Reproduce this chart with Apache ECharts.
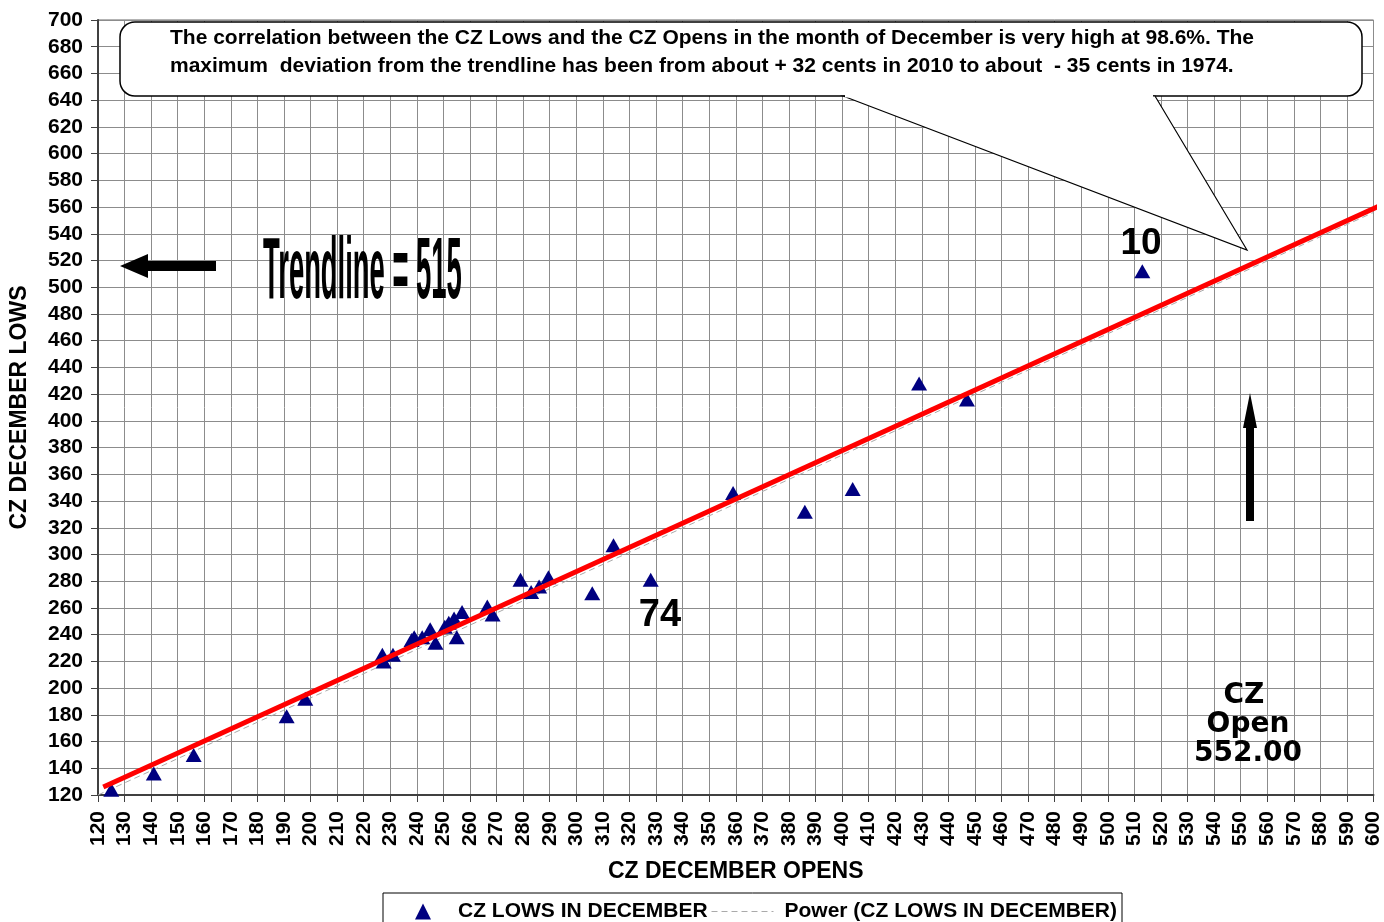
<!DOCTYPE html>
<html><head><meta charset="utf-8">
<script src="https://cdn.jsdelivr.net/npm/echarts@6/dist/echarts.min.js"></script>
<style>html,body{margin:0;padding:0;background:#fff}#c{width:1384px;height:922px}</style>
</head><body><div id="c"></div>
<script>
// CZ December opens (x) and lows (y)
const opens = [125, 141, 156, 191, 198, 227, 227.5, 231, 238, 239, 242, 245, 247, 250.5, 252, 254, 255, 257, 266.5, 268.5, 279, 283, 286, 289.5, 306, 314, 328, 359, 386, 404, 429, 447, 513];
const lows  = [124, 136, 150, 179, 192, 225, 220, 225, 236, 238, 238, 244, 234, 246, 249, 252, 238, 257, 261, 255, 281, 272, 276, 283, 271, 307, 281, 346, 332, 349, 428, 416, 512];
// red trendline drawn on the chart
const trendOpens = [122, 603];
const trendLows  = [126, 561.5];
// grey dashed power trendline
const powerOpens = [120, 600];
const powerLows  = [120, 556];
// axis ranges
const xMin = 120, xMax = 600, xStep = 10;
const yMin = 120, yMax = 700, yStep = 20;

const seriesName = 'CZ LOWS IN DECEMBER';
const powerName = 'Power (CZ LOWS IN DECEMBER)';
const noteLine1 = 'The correlation between the CZ Lows and the CZ Opens in the month of December is very high at 98.6%. The';
const noteLine2 = 'maximum  deviation from the trendline has been from about + 32 cents in 2010 to about  - 35 cents in 1974.';

const F = "'Liberation Sans', Arial, sans-serif";
const chart = echarts.init(document.getElementById('c'));
const pts = opens.map((x, i) => [x, lows[i]]);
const trend = trendOpens.map((x, i) => [x, trendLows[i]]);
const power = powerOpens.map((x, i) => [x, powerLows[i]]);

chart.setOption({
  backgroundColor: '#fff',
  animation: false,
  grid: { left: 98, right: 7, top: 20, bottom: 127, show: true, borderColor: '#666', borderWidth: 1, backgroundColor: '#fff' },
  xAxis: {
    type: 'value', min: xMin, max: xMax, interval: xStep,
    name: 'CZ DECEMBER OPENS', nameLocation: 'middle', nameGap: 65,
    nameTextStyle: { fontFamily: F, fontWeight: 'bold', fontSize: 23, color: '#000' },
    axisLine: { show: true, onZero: false, lineStyle: { color: '#404040', width: 2 } },
    axisTick: { show: true, length: 7, lineStyle: { color: '#404040' } },
    axisLabel: { rotate: 90, margin: 16, fontFamily: F, fontWeight: 'bold', fontSize: 21, color: '#000' },
    splitLine: { show: true, lineStyle: { color: '#8c8c8c', width: 1 } }
  },
  yAxis: {
    type: 'value', min: yMin, max: yMax, interval: yStep,
    name: 'CZ DECEMBER LOWS', nameLocation: 'middle', nameGap: 67,
    nameTextStyle: { fontFamily: F, fontWeight: 'bold', fontSize: 23, color: '#000' },
    axisLine: { show: true, onZero: false, lineStyle: { color: '#404040', width: 2 } },
    axisTick: { show: true, length: 7, lineStyle: { color: '#404040' } },
    axisLabel: { margin: 15, fontFamily: F, fontWeight: 'bold', fontSize: 21, color: '#000' },
    splitLine: { show: true, lineStyle: { color: '#8c8c8c', width: 1 } }
  },
  legend: [
    { data: [seriesName], left: 410, top: 896, itemWidth: 16, itemHeight: 16, icon: 'triangle',
      itemStyle: { color: '#000080', opacity: 1 },
      textStyle: { fontFamily: F, fontWeight: 'bold', fontSize: 21, color: '#000', padding: [0, 0, 0, 22] } },
    { data: [powerName], left: 706, top: 896, itemWidth: 62, itemHeight: 14,
      itemStyle: { opacity: 0 },
      lineStyle: { color: '#aaa', width: 1, type: [6, 4] },
      textStyle: { fontFamily: F, fontWeight: 'bold', fontSize: 21, color: '#000', padding: [0, 0, 0, 6] } }
  ],
  series: [
    { name: powerName, type: 'line', data: power, symbol: 'none', z: 2,
      lineStyle: { color: '#aaa', width: 1, type: [6, 4] }, itemStyle: { color: '#aaa' } },
    { name: seriesName, type: 'scatter', data: pts, symbol: 'triangle', symbolSize: [16, 14], z: 3,
      itemStyle: { color: '#000080', opacity: 1 } },
    { name: 'trend', type: 'line', data: trend, symbol: 'none', clip: false, z: 4,
      lineStyle: { color: '#ff0000', width: 5 } }
  ],
  graphic: [
    { type: 'rect', z: 10, shape: { x: 120, y: 22, width: 1242, height: 74, r: 15 },
      style: { fill: '#fff', stroke: '#000', lineWidth: 1.5 } },
    { type: 'polygon', z: 10, shape: { points: [[843, 96], [1247, 250], [1155, 96]] },
      style: { fill: '#fff', stroke: '#000', lineWidth: 1.2 } },
    { type: 'line', z: 10, shape: { x1: 845, y1: 96, x2: 1153, y2: 96 }, style: { stroke: '#fff', lineWidth: 3 } },
    { type: 'text', x: 170, y: 38, z: 11, style: { text: noteLine1, font: "bold 21px " + F, fill: '#000', verticalAlign: 'middle' } },
    { type: 'text', x: 170, y: 66, z: 11, style: { text: noteLine2, font: "bold 21px " + F, fill: '#000', verticalAlign: 'middle' } },
    { type: 'text', x: 263, y: 274, scaleX: 0.315, z: 11, style: { text: 'Trendline = 515', font: "bold 87px " + F, fill: '#000', verticalAlign: 'middle' } },
    { type: 'polygon', z: 11, shape: { points: [[120,266],[148,254],[148,261],[216,261],[216,271],[148,271],[148,278]] }, style: { fill: '#000' } },
    { type: 'polygon', z: 11, shape: { points: [[1250,393],[1257,428],[1254,428],[1254,521],[1246,521],[1246,428],[1243,428]] }, style: { fill: '#000' } },
    { type: 'text', x: 1141, y: 244, z: 11, style: { text: '10', font: "bold 37px " + F, fill: '#000', align: 'center', verticalAlign: 'middle' } },
    { type: 'text', x: 660, y: 616, z: 11, style: { text: '74', font: "bold 38px " + F, fill: '#000', align: 'center', verticalAlign: 'middle' } },
    { type: 'text', x: 1244, y: 696, z: 11, style: { text: 'CZ', font: "bold 28px 'DejaVu Sans', sans-serif", fill: '#000', align: 'center', verticalAlign: 'middle' } },
    { type: 'text', x: 1248, y: 725, z: 11, style: { text: 'Open', font: "bold 28px 'DejaVu Sans', sans-serif", fill: '#000', align: 'center', verticalAlign: 'middle' } },
    { type: 'text', x: 1248, y: 754, z: 11, style: { text: '552.00', font: "bold 28px 'DejaVu Sans', sans-serif", fill: '#000', align: 'center', verticalAlign: 'middle' } },
    { type: 'rect', z: 1, shape: { x: 383, y: 893, width: 739, height: 45 }, style: { fill: 'none', stroke: '#000', lineWidth: 1 } }
  ]
});
</script></body></html>
